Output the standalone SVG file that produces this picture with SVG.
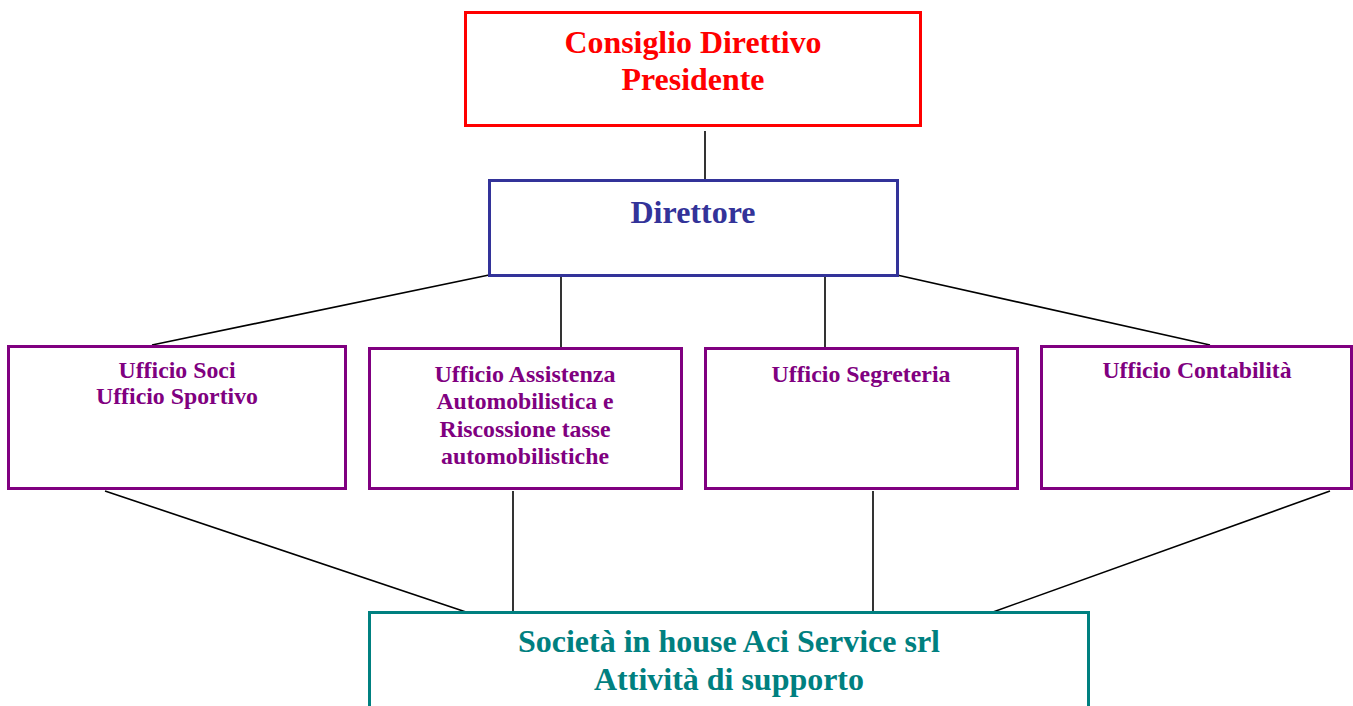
<svg xmlns="http://www.w3.org/2000/svg" width="1353" height="706" viewBox="0 0 1353 706">
<style>
text{font-family:"Liberation Serif","Times New Roman",serif;font-weight:bold;text-anchor:middle}
.box{fill:#fff;stroke-width:3}
.red{stroke:#ff0000}.redt{fill:#ff0000;font-size:31px}
.blue{stroke:#333399}.bluet{fill:#333399;font-size:32px}
.pur{stroke:#800080}.purt{fill:#800080;font-size:23px}
.teal{stroke:#008080}.tealt{fill:#008080;font-size:31px}
.conn line{stroke:#000;stroke-width:1.6}
</style>
<rect width="1353" height="706" fill="#fff"/>
<g class="conn" id="connectors">
<line x1="705" y1="131" x2="705" y2="180"/>
<line x1="489" y1="275" x2="152" y2="345"/>
<line x1="561" y1="275" x2="561" y2="348"/>
<line x1="825" y1="275" x2="825" y2="348"/>
<line x1="897" y1="275" x2="1210" y2="345"/>
<line x1="105" y1="491" x2="466" y2="612"/>
<line x1="513" y1="491" x2="513" y2="612"/>
<line x1="873" y1="491" x2="873" y2="612"/>
<line x1="1330" y1="491" x2="993" y2="612"/>
</g>
<g id="consiglio">
<rect class="box red" x="465.5" y="12.5" width="455" height="113"/>
<text class="redt" x="693" y="53" textLength="257" lengthAdjust="spacingAndGlyphs">Consiglio Direttivo</text>
<text class="redt" x="693" y="90" textLength="143" lengthAdjust="spacingAndGlyphs">Presidente</text>
</g>
<g id="direttore">
<rect class="box blue" x="489.5" y="180.5" width="408" height="95"/>
<text class="bluet" x="693" y="223" textLength="125" lengthAdjust="spacingAndGlyphs">Direttore</text>
</g>
<g id="soci">
<rect class="box pur" x="8.5" y="346.5" width="337" height="142"/>
<text class="purt" x="177" y="378" textLength="117" lengthAdjust="spacingAndGlyphs">Ufficio Soci</text>
<text class="purt" x="177" y="404" textLength="162" lengthAdjust="spacingAndGlyphs">Ufficio Sportivo</text>
</g>
<g id="assistenza">
<rect class="box pur" x="369.5" y="348.5" width="312" height="140"/>
<text class="purt" x="525" y="382" textLength="181" lengthAdjust="spacingAndGlyphs">Ufficio Assistenza</text>
<text class="purt" x="525" y="409" textLength="177" lengthAdjust="spacingAndGlyphs">Automobilistica e</text>
<text class="purt" x="525" y="437" textLength="171" lengthAdjust="spacingAndGlyphs">Riscossione tasse</text>
<text class="purt" x="525" y="464" textLength="168" lengthAdjust="spacingAndGlyphs">automobilistiche</text>
</g>
<g id="segreteria">
<rect class="box pur" x="705.5" y="348.5" width="312" height="140"/>
<text class="purt" x="861" y="382" textLength="179" lengthAdjust="spacingAndGlyphs">Ufficio Segreteria</text>
</g>
<g id="contabilita">
<rect class="box pur" x="1041.5" y="346.5" width="310" height="142"/>
<text class="purt" x="1197" y="378" textLength="189" lengthAdjust="spacingAndGlyphs">Ufficio Contabilità</text>
</g>
<g id="aciservice">
<rect class="box teal" x="369.5" y="612.5" width="719" height="110"/>
<text class="tealt" x="729" y="652" textLength="422" lengthAdjust="spacingAndGlyphs">Società in house Aci Service srl</text>
<text class="tealt" x="729" y="690" textLength="270" lengthAdjust="spacingAndGlyphs">Attività di supporto</text>
</g>
</svg>
